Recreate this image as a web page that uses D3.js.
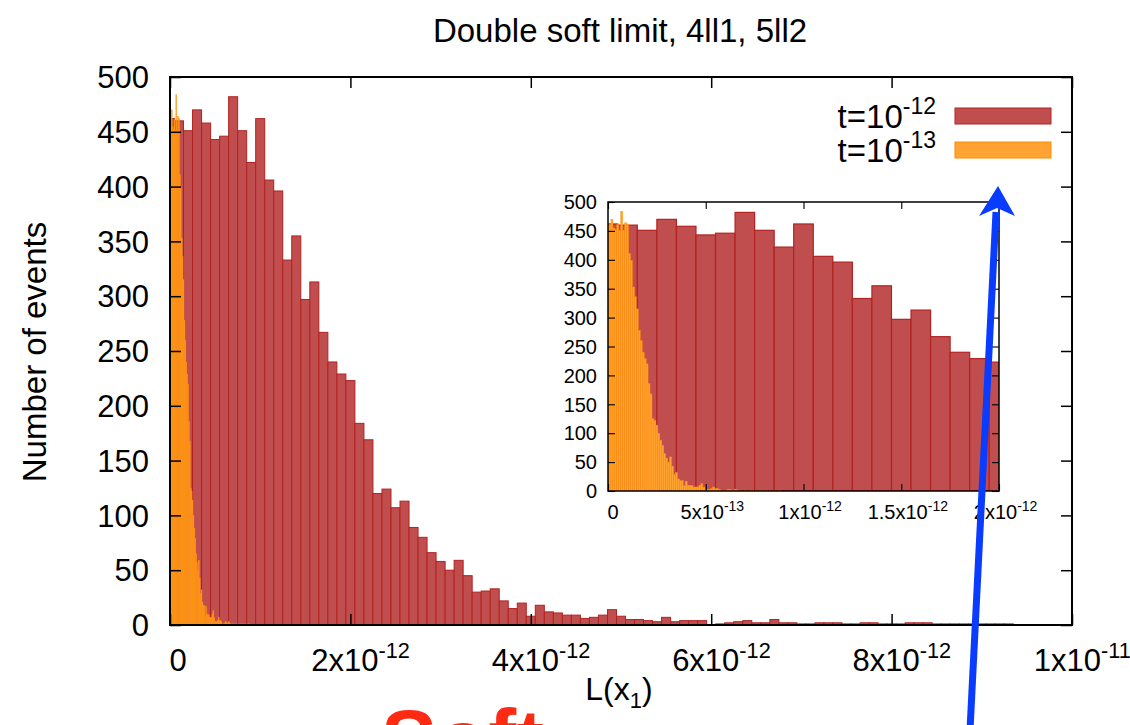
<!DOCTYPE html>
<html>
<head>
<meta charset="utf-8">
<script src="https://cdn.jsdelivr.net/npm/d3@7"></script>
<style>
body { margin: 0; background: #fff; }
svg { display: block; }
text { font-family: "Liberation Sans", Arial, Helvetica, sans-serif; fill: #000; }
</style>
</head>
<body>
<svg id="drawing_region"></svg>
<script>
// t=10^-12 histogram, bin width 1e-13, bin k centred at k*1e-13
const redCounts = [462, 460, 451, 470, 458, 443, 446, 482, 451, 422,
    462, 406, 396, 333, 355, 297, 313, 267, 240, 229,
    223, 184, 169, 120, 124, 107, 113, 89, 80, 66,
    58, 50, 59, 45, 30, 31, 33, 22, 15, 20,
    8, 18, 12, 11, 9, 9, 6, 7, 9, 14,
    8, 5, 5, 4, 3, 7, 3, 4, 4, 4,
    0, 1, 2, 3, 4, 2, 2, 5, 2, 2,
    1, 1, 2, 2, 2, 1, 1, 2, 2, 1,
    1, 1, 2, 2, 2, 1, 1, 1, 1, 1,
    1, 1, 1, 1];
// t=10^-13 histogram, bin width 1e-14, bin k centred at k*1e-14
const orangeCounts = [461, 461, 470, 455, 452, 461, 451, 484, 451, 464,
    462, 411, 399, 353, 336, 315, 278, 260, 240, 229,
    220, 186, 168, 125, 122, 114, 100, 88, 79, 65,
    57, 50, 59, 43, 29, 32, 21, 18, 18, 9,
    17, 10, 10, 9, 7, 7, 7, 10, 13, 7,
    3, 3, 3, 4, 7, 4, 4, 3, 1, 1,
    1, 2, 3, 2, 1, 3, 2, 1, 1, 0,
    1, 1, 0, 1, 1, 0, 1, 0, 1, 1,
    0, 1, 0, 1, 0, 1, 0, 1, 1];
const redWidth = 1e-13;
const orangeWidth = 1e-14;

const yTicks = [0, 50, 100, 150, 200, 250, 300, 350, 400, 450, 500];
const mainXTicks = [0, 2e-12, 4e-12, 6e-12, 8e-12, 1e-11];
const mainXLabels = [["0", ""], ["2x10", "-12"], ["4x10", "-12"], ["6x10", "-12"], ["8x10", "-12"], ["1x10", "-11"]];
const insetXTicks = [0, 5e-13, 1e-12, 1.5e-12, 2e-12];
const insetXLabels = [["0", ""], ["5x10", "-13"], ["1x10", "-12"], ["1.5x10", "-12"], ["2x10", "-12"]];
const seriesNames = [["t=10", "-12"], ["t=10", "-13"]];
const seriesFill = ["#c14e4e", "#ffa333"];
const seriesStroke = ["#b22222", "#ff8c00"];

const width = 1130, height = 725;
const svg = d3.select('#drawing_region')
    .attr('width', width)
    .attr('height', height);

function toBins(counts, w) {
    return counts.map((n, k) => ({ x0: Math.max(0, (k - 0.5) * w), x1: (k + 0.5) * w, n: n }));
}
const redBins = toBins(redCounts, redWidth);
const orangeBins = toBins(orangeCounts, orangeWidth);

function supLabel(sel, parts, supSize, rise) {
    sel.append('tspan').text(parts[0]);
    if (parts[1]) {
        sel.append('tspan')
            .attr('dy', -rise)
            .attr('font-size', supSize)
            .text(parts[1]);
    }
}

function drawPanel(cfg) {
    const xs = d3.scaleLinear().domain(cfg.xdomain).range([cfg.left, cfg.right]);
    const ys = d3.scaleLinear().domain([0, 500]).range([cfg.bottom, cfg.top]);
    const g = svg.append('g');

    g.append('rect')
        .attr('x', cfg.left).attr('y', cfg.top)
        .attr('width', cfg.right - cfg.left).attr('height', cfg.bottom - cfg.top)
        .attr('fill', '#fff');

    const clipId = 'clip_' + cfg.name;
    g.append('clipPath').attr('id', clipId)
        .append('rect')
        .attr('x', cfg.left).attr('y', cfg.top)
        .attr('width', cfg.right - cfg.left).attr('height', cfg.bottom - cfg.top);

    const bars = g.append('g').attr('clip-path', `url(#${clipId})`);
    [redBins, orangeBins].forEach((bins, i) => {
        bars.append('g')
            .selectAll('rect')
            .data(bins.filter(d => d.n > 0))
            .join('rect')
            .attr('x', d => xs(d.x0))
            .attr('width', d => xs(d.x1) - xs(d.x0))
            .attr('y', d => ys(d.n))
            .attr('height', d => ys(0) - ys(d.n))
            .attr('fill', seriesFill[i])
            .attr('stroke', seriesStroke[i])
            .attr('stroke-width', i === 0 ? cfg.redStroke : 0.4);
    });

    // inward ticks on all sides
    const tl = cfg.tickLen;
    g.append('g').attr('transform', `translate(0,${cfg.bottom})`)
        .call(d3.axisBottom(xs).tickValues(cfg.xticks).tickSize(-tl).tickFormat(''))
        .call(a => a.select('.domain').remove());
    g.append('g').attr('transform', `translate(0,${cfg.top})`)
        .call(d3.axisTop(xs).tickValues(cfg.xticks).tickSize(-tl).tickFormat(''))
        .call(a => a.select('.domain').remove());
    g.append('g').attr('transform', `translate(${cfg.left},0)`)
        .call(d3.axisLeft(ys).tickValues(yTicks).tickSize(-tl).tickFormat(''))
        .call(a => a.select('.domain').remove());
    g.append('g').attr('transform', `translate(${cfg.right},0)`)
        .call(d3.axisRight(ys).tickValues(yTicks).tickSize(-tl).tickFormat(''))
        .call(a => a.select('.domain').remove());
    g.selectAll('.tick line').attr('stroke', '#000').attr('stroke-width', cfg.frame * 0.75);

    g.append('rect')
        .attr('x', cfg.left).attr('y', cfg.top)
        .attr('width', cfg.right - cfg.left).attr('height', cfg.bottom - cfg.top)
        .attr('fill', 'none').attr('stroke', '#000').attr('stroke-width', cfg.frame);

    // y tick labels
    g.append('g').selectAll('text')
        .data(yTicks)
        .join('text')
        .attr('x', cfg.left - cfg.ylabGap)
        .attr('y', d => ys(d) + cfg.font * 0.36)
        .attr('text-anchor', 'end')
        .attr('font-size', cfg.font)
        .text(d => d);

    // x tick labels with exponents
    g.append('g').selectAll('text')
        .data(cfg.xticks)
        .join('text')
        .attr('x', (d, i) => xs(d) + (cfg.xlabels[i][1] ? cfg.font * 0.33 : cfg.zeroShift))
        .attr('y', cfg.bottom + cfg.xlabY)
        .attr('text-anchor', 'middle')
        .attr('font-size', cfg.font)
        .each(function (d, i) {
            supLabel(d3.select(this), cfg.xlabels[i], cfg.font * 0.7, cfg.font * 0.42);
        });

    return { xs, ys, g };
}

const main = drawPanel({
    name: 'main', xdomain: [0, 1e-11], xticks: mainXTicks, xlabels: mainXLabels,
    left: 170, right: 1072, top: 77, bottom: 625,
    tickLen: 11, frame: 2, font: 31, ylabGap: 21, xlabY: 46, redStroke: 1, zeroShift: 8
});

const inset = drawPanel({
    name: 'inset', xdomain: [0, 2e-12], xticks: insetXTicks, xlabels: insetXLabels,
    left: 608, right: 999, top: 202, bottom: 491,
    tickLen: 7, frame: 1.5, font: 20, ylabGap: 11, xlabY: 28, redStroke: 1.2, zeroShift: 5
});

// title and axis labels
svg.append('text')
    .attr('x', 620).attr('y', 42)
    .attr('text-anchor', 'middle')
    .attr('font-size', 33)
    .text('Double soft limit, 4ll1, 5ll2');

svg.append('text')
    .attr('transform', 'translate(46,352) rotate(-90)')
    .attr('text-anchor', 'middle')
    .attr('font-size', 33)
    .text('Number of events');

const xl = svg.append('text')
    .attr('x', 619).attr('y', 700)
    .attr('text-anchor', 'middle')
    .attr('font-size', 32);
xl.append('tspan').text('L(x');
xl.append('tspan').attr('dy', 8).attr('font-size', 22).text('1');
xl.append('tspan').attr('dy', -8).text(')');

// legend
const legend = svg.append('g');
seriesNames.forEach((s, i) => {
    const yc = 116 + i * 34;
    const t = legend.append('text')
        .attr('x', 936).attr('y', yc + 12)
        .attr('text-anchor', 'end')
        .attr('font-size', 33);
    supLabel(t, s, 23, 14);
    legend.append('rect')
        .attr('x', 955).attr('y', yc - 8)
        .attr('width', 96).attr('height', 16)
        .attr('fill', seriesFill[i])
        .attr('stroke', seriesStroke[i])
        .attr('stroke-width', 1);
});

// blue arrow annotation
svg.append('line')
    .attr('x1', 970).attr('y1', 730)
    .attr('x2', 996).attr('y2', 212)
    .attr('stroke', '#0a3cff').attr('stroke-width', 7);
svg.append('path')
    .attr('d', 'M998,186 L1015,216 L997,208 L979,216 Z')
    .attr('fill', '#0a3cff');

// red annotation text, cut off by the bottom edge
svg.append('text')
    .attr('x', 381).attr('y', 768)
    .attr('font-size', 84)
    .attr('font-weight', 'bold')
    .style('fill', '#ff2a12')
    .text('Soft');
</script>
</body>
</html>
